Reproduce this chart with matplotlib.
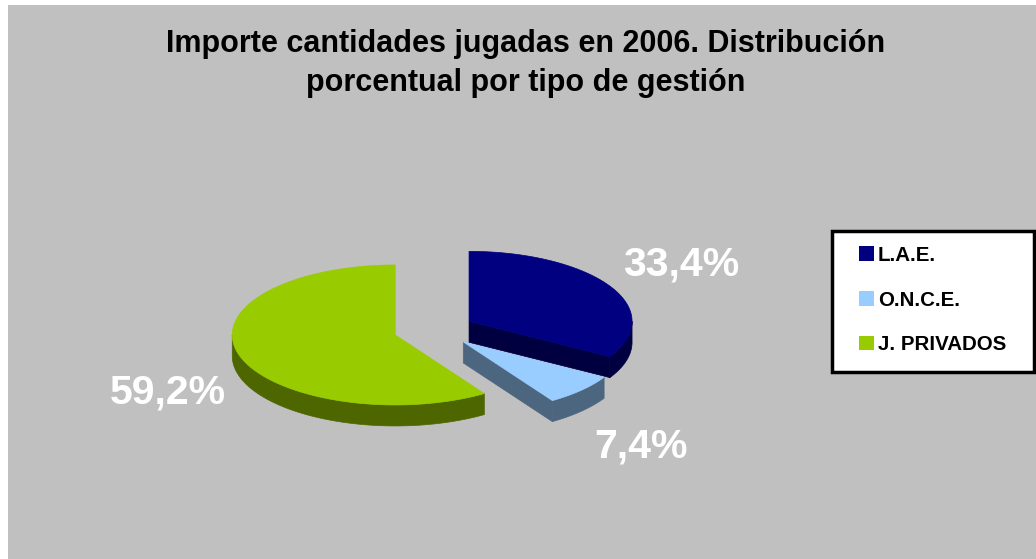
import numpy as np
import matplotlib
matplotlib.use("Agg")
import matplotlib.pyplot as plt
from matplotlib.patches import Polygon, Rectangle, Patch

# ---- data ----
categories = ["L.A.E.", "O.N.C.E.", "J. PRIVADOS"]
values = [33.4, 7.4, 59.2]
labels = ["33,4%", "7,4%", "59,2%"]
title_lines = ["Importe cantidades jugadas en 2006. Distribución",
               "porcentual por tipo de gestión"]

top_colors = ["#000080", "#99CCFF", "#99CC00"]
side_colors = ["#000040", "#4D6680", "#4D6600"]

# ---- layout (pixel space) ----
W, H = 1036, 559
CX, CY = 434.0, 330.0
RX, RY = 163.0, 70.0
DEPTH = 21.0
EXPLODE = 0.248
label_pos = [(681, 275), (641, 458), (168, 403)]   # baselines
title_base = [52, 91]

plt.rcParams['font.family'] = ['Liberation Sans', 'DejaVu Sans']

fig = plt.figure(figsize=(W / 100, H / 100), dpi=100)
fig.patch.set_facecolor("white")
ax = fig.add_axes([0, 0, 1, 1])
ax.set_xlim(0, W)
ax.set_ylim(H, 0)
ax.axis("off")

# background panel
ax.add_patch(Rectangle((8, 5), W - 8, H - 5, facecolor="#C0C0C0", edgecolor="none", zorder=0))


def pt(cx, cy, theta_deg, dy=0.0):
    t = np.radians(theta_deg)
    return cx + RX * np.sin(t), cy - RY * np.cos(t) + dy


total = float(sum(values))
angles = np.concatenate([[0.0], np.cumsum(values) / total * 360.0])

slices = []
for i, v in enumerate(values):
    a1, a2 = angles[i], angles[i + 1]
    mid = np.radians((a1 + a2) / 2)
    cx = CX + EXPLODE * RX * np.sin(mid)
    cy = CY - EXPLODE * RY * np.cos(mid)
    slices.append((a1, a2, cx, cy))

# draw order: back to front
order = [0, 2, 1]
z = 2
for i in order:
    a1, a2, cx, cy = slices[i]
    sc, tc = side_colors[i], top_colors[i]
    # outer curved side (visible part 90..270)
    lo, hi = max(a1, 90.0), min(a2, 270.0)
    if hi > lo:
        th = np.linspace(lo, hi, 100)
        topx, topy = pt(cx, cy, th)
        botx, boty = pt(cx, cy, th[::-1], DEPTH)
        poly = np.column_stack([np.concatenate([topx, botx]), np.concatenate([topy, boty])])
        ax.add_patch(Polygon(poly, closed=True, facecolor=sc, edgecolor=sc, lw=0.5, zorder=z))
    # radial faces
    for phi, sign in ((a2, +1), (a1, -1)):
        psi = np.radians(phi + sign * 90)
        if -np.cos(psi) > 1e-6:
            ex, ey = pt(cx, cy, phi)
            poly = [(cx, cy), (ex, ey), (ex, ey + DEPTH), (cx, cy + DEPTH)]
            ax.add_patch(Polygon(poly, closed=True, facecolor=sc, edgecolor=sc, lw=0.5, zorder=z))
    # top face
    th = np.linspace(a1, a2, 300)
    tx, ty = pt(cx, cy, th)
    poly = np.column_stack([np.concatenate([[cx], tx]), np.concatenate([[cy], ty])])
    ax.add_patch(Polygon(poly, closed=True, facecolor=tc, edgecolor=tc, lw=0.5, zorder=z + 1))
    z += 2

# data labels
for (lx, ly), lab in zip(label_pos, labels):
    ax.text(lx, ly, lab, color="white", fontsize=29.5, fontweight="bold",
            ha="center", va="baseline", zorder=20)

# title
for line, yb in zip(title_lines, title_base):
    ax.text(526, yb, line, ha="center", va="baseline", fontsize=22, fontweight="bold",
            color="black", zorder=20)

# legend box
ax.add_patch(Rectangle((832, 231), 202, 141, facecolor="white", edgecolor="black", lw=2.5, zorder=15))
handles = [Patch(facecolor=c, edgecolor="none") for c in top_colors]
leg = ax.legend(handles, categories, loc="center left", bbox_to_anchor=(859 / W, 1 - 300 / H),
                bbox_transform=fig.transFigure, frameon=False,
                prop={"family": "Liberation Sans", "weight": "bold", "size": 14.8},
                handlelength=0.72, handleheight=0.72, handletextpad=0.2, labelspacing=1.25,
                borderpad=0, borderaxespad=0)
leg.set_zorder(21)

fig.savefig("out.png", dpi=100, facecolor=fig.get_facecolor())
